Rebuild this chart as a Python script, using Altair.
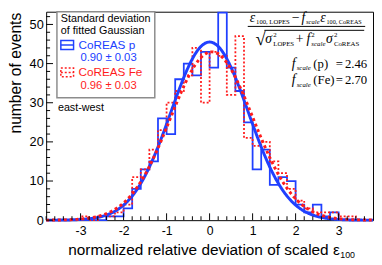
import altair as alt
import pandas as pd

# ---------------- data ----------------
bin_edges = [-3.8, -3.6, -3.4, -3.2, -3.0, -2.8, -2.6, -2.4, -2.2, -2.0, -1.8, -1.6, -1.4,
             -1.2, -1.0, -0.8, -0.6, -0.4, -0.2, 0.0, 0.2, 0.4, 0.6, 0.8, 1.0, 1.2, 1.4,
             1.6, 1.8, 2.0, 2.2, 2.4, 2.6, 2.8, 3.0, 3.2, 3.4, 3.6, 3.8]
p_counts = [0, 0, 0, 0, 0, 0, 0, 1, 1, 3, 8, 13, 15,
            26, 22, 36, 40, 37, 43, 39, 53, 39, 33, 25, 13, 18, 9,
            11, 10, 4, 2, 4, 1, 2, 0, 0, 0, 0]
fe_counts = [0, 0, 0, 0, 1, 0, 1, 1, 2, 4, 11, 13, 18,
             23, 30, 33, 37, 44, 30, 43, 42, 32, 47, 21, 19, 20, 15,
             12, 8, 5, 3, 2, 2, 2, 1, 1, 0, 0]
fit_p = {"amp": 45.5, "mean": 0.0, "sigma": 0.90}
fit_fe = {"amp": 43.0, "mean": 0.05, "sigma": 0.96}

x_major = [-3, -2, -1, 0, 1, 2, 3]
x_minor = [-3.8, -3.6, -3.4, -3.2, -2.8, -2.6, -2.4, -2.2, -1.8, -1.6, -1.4, -1.2,
           -0.8, -0.6, -0.4, -0.2, 0.2, 0.4, 0.6, 0.8, 1.2, 1.4, 1.6, 1.8,
           2.2, 2.4, 2.6, 2.8, 3.2, 3.4, 3.6]
y_major = [0, 10, 20, 30, 40, 50]
y_minor = [2, 4, 6, 8, 12, 14, 16, 18, 22, 24, 26, 28, 32, 34, 36, 38,
           42, 44, 46, 48, 52]

X_DOMAIN = [-3.8, 3.8]
Y_DOMAIN = [0, 53.25]
W, H = 334, 213
OX, OY = 47, 9  # plot origin on the page
BLUE = "#2040ff"
RED = "#ff1c1c"
SANS = "Liberation Sans"
SERIF = "Liberation Serif"

xs = alt.Scale(domain=X_DOMAIN, nice=False, zero=False)
ys = alt.Scale(domain=Y_DOMAIN, nice=False, zero=False)

axis_x = alt.Axis(values=x_major, ticks=False, domain=False, grid=False, title=None,
                  labelFont=SANS, labelFontSize=12.5, labelColor="black", labelPadding=5,
                  labelExpr="datum.value < 0 ? '-' + abs(datum.value) : '' + datum.value")
axis_y = alt.Axis(values=y_major, ticks=False, domain=False, grid=False, title=None,
                  labelFont=SANS, labelFontSize=13, labelColor="black", labelPadding=3)


def X(field):
    return alt.X(field, scale=xs, axis=axis_x)


def Y(field):
    return alt.Y(field, scale=ys, axis=axis_y)


def step_table(counts):
    return pd.DataFrame({"x": bin_edges, "y": counts + [counts[-1]]})


ONE = pd.DataFrame({"a": [0]})


def px(v):
    return v - OX


def py(v):
    return v - OY


# ---------------- histograms ----------------
hist_p = alt.Chart(step_table(p_counts)).mark_line(
    interpolate="step-after", color=BLUE, strokeWidth=1.8
).encode(x=X("x:Q"), y=Y("y:Q"))

hist_fe = alt.Chart(step_table(fe_counts)).mark_line(
    interpolate="step-after", color=RED, strokeWidth=1.8, strokeDash=[2, 2]
).encode(x=X("x:Q"), y=Y("y:Q"))


def gauss(fit, color, dash=None):
    expr = "{a} * exp(-0.5 * pow((datum.x - {m}) / {s}, 2))".format(
        a=fit["amp"], m=fit["mean"], s=fit["sigma"])
    kw = dict(color=color, strokeWidth=3)
    if dash:
        kw["strokeDash"] = dash
    return alt.Chart(alt.sequence(-3.8, 3.8001, 0.01, as_="x")).transform_calculate(
        y=expr).mark_line(**kw).encode(x=X("x:Q"), y=Y("y:Q"))


curve_p = gauss(fit_p, BLUE)
curve_fe = gauss(fit_fe, RED, [3, 3])

# ---------------- ticks (inward) ----------------
xt_major = alt.Chart(pd.DataFrame({"x": x_major})).mark_rule(color="black", strokeWidth=1).encode(
    x=X("x:Q"), y=alt.value(H), y2=alt.value(H - 7))
xt_minor = alt.Chart(pd.DataFrame({"x": x_minor})).mark_rule(color="black", strokeWidth=1).encode(
    x=X("x:Q"), y=alt.value(H), y2=alt.value(H - 4))
yt_major = alt.Chart(pd.DataFrame({"y": y_major})).mark_rule(color="black", strokeWidth=1).encode(
    y=Y("y:Q"), x=alt.value(0), x2=alt.value(7))
yt_minor = alt.Chart(pd.DataFrame({"y": y_minor})).mark_rule(color="black", strokeWidth=1).encode(
    y=Y("y:Q"), x=alt.value(0), x2=alt.value(4))


def txt(t, x, y, size, color="black", font=SANS, style="normal", align="left",
        baseline="alphabetic", angle=0):
    kw = dict(font=font, fontSize=size, color=color, align=align, baseline=baseline)
    if style != "normal":
        kw["fontStyle"] = style
    if angle:
        kw["angle"] = angle
    return alt.Chart(ONE).mark_text(**kw).encode(
        x=alt.value(px(x)), y=alt.value(py(y)), text=alt.value(t))


def box(x1, x2, y1, y2, stroke, width=1.5, dash=None, fill=None):
    kw = dict(stroke=stroke, strokeWidth=width)
    if fill:
        kw["fill"] = fill
    else:
        kw["fillOpacity"] = 0
        kw["fill"] = "white"
    if dash:
        kw["strokeDash"] = dash
    return alt.Chart(ONE).mark_rect(**kw).encode(
        x=alt.value(px(x1)), x2=alt.value(px(x2)), y=alt.value(py(y1)), y2=alt.value(py(y2)))


def hline(x1, x2, y, color, width=1.0, dash=None):
    kw = dict(color=color, strokeWidth=width)
    if dash:
        kw["strokeDash"] = dash
    return alt.Chart(ONE).mark_rule(**kw).encode(
        x=alt.value(px(x1)), x2=alt.value(px(x2)), y=alt.value(py(y)))


# ---------------- legend ----------------
legend = [
    box(58, 158, 9, 97, "#8c8c8c", 1.5, fill="white"),
    box(62, 75, 38.5, 47.5, BLUE, 1.5),
    hline(62, 75, 43, BLUE, 1.5),
    box(62, 75, 66.5, 75.5, RED, 1.5, dash=[2, 2]),
    hline(62, 75, 71, RED, 1.5, dash=[2, 2]),
    txt("Standard deviation", 62, 17, 11, baseline="middle"),
    txt("of fitted Gaussian", 62, 28.5, 11, baseline="middle"),
    txt("CoREAS p", 80, 43, 12, BLUE, baseline="middle"),
    txt("0.90 \u00b1 0.03", 82, 56.5, 11.5, BLUE, baseline="middle"),
    txt("CoREAS Fe", 80, 71, 12, RED, baseline="middle"),
    txt("0.96 \u00b1 0.03", 82, 85, 11.5, RED, baseline="middle"),
    txt("east-west", 59, 107, 11, baseline="middle"),
]

# ---------------- formula ----------------
SUB = 6.8
formula = [
    # numerator
    txt("\u03b5", 255, 19, 14, font=SERIF, style="italic"),
    txt("100, LOPES", 261.5, 22, SUB, font=SERIF),
    txt("\u2212", 298, 19, 14, font=SERIF),
    txt("f", 308, 19, 14, font=SERIF, style="italic"),
    txt("scale", 312.5, 22, SUB, font=SERIF, style="italic"),
    txt("\u03b5", 327, 19, 14, font=SERIF, style="italic"),
    txt("100, CoREAS", 333.5, 22, 6.3, font=SERIF),
    hline(253, 373, 24, "black", 1),
    # denominator
    txt("\u221a", 261, 43, 19, font=SERIF),
    hline(270, 372, 28, "black", 1),
    txt("\u03c3", 271, 41, 14, font=SERIF, style="italic"),
    txt("2", 279, 35, 7, font=SERIF),
    txt("LOPES", 279, 44, 7, font=SERIF),
    txt("+", 302, 41, 14, font=SERIF),
    txt("f", 313, 41, 14, font=SERIF, style="italic"),
    txt("2", 318, 35, 7, font=SERIF),
    txt("scale", 318, 44, 7, font=SERIF, style="italic"),
    txt("\u03c3", 333, 41, 14, font=SERIF, style="italic"),
    txt("2", 341, 35, 7, font=SERIF),
    txt("CoREAS", 341, 44, 7, font=SERIF),
    # scale factors
    txt("f", 298, 66, 14, font=SERIF, style="italic"),
    txt("scale", 303, 69, 7, font=SERIF, style="italic"),
    txt("(p)", 320, 66, 13, font=SERIF),
    txt("=", 343, 66, 13, font=SERIF),
    txt("2.46", 375, 66, 13, font=SERIF, align="right"),
    txt("f", 298, 83, 14, font=SERIF, style="italic"),
    txt("scale", 303, 86, 7, font=SERIF, style="italic"),
    txt("(Fe)", 320, 83, 13, font=SERIF),
    txt("=", 343, 83, 13, font=SERIF),
    txt("2.70", 375, 83, 13, font=SERIF, align="right"),
]

# ---------------- axis titles ----------------
titles = [
    txt("normalized relative deviation of scaled \u03b5", 347, 257.5, 15.7, align="right"),
    txt("100", 347.5, 261, 9),
    txt("number of events", 16, 10, 16, align="right", baseline="middle", angle=270),
]

chart = alt.layer(
    hist_p, hist_fe, curve_p, curve_fe,
    xt_major, xt_minor, yt_major, yt_minor,
    *legend, *formula, *titles,
).properties(
    width=W, height=H,
    autosize=alt.AutoSizeParams(type="none"),
    padding={"left": 39, "top": 1, "right": 1, "bottom": 43},
    background="white",
).configure_view(stroke="black", strokeWidth=1)

chart.save("out.html", embed_options={"renderer": "svg", "actions": False})
